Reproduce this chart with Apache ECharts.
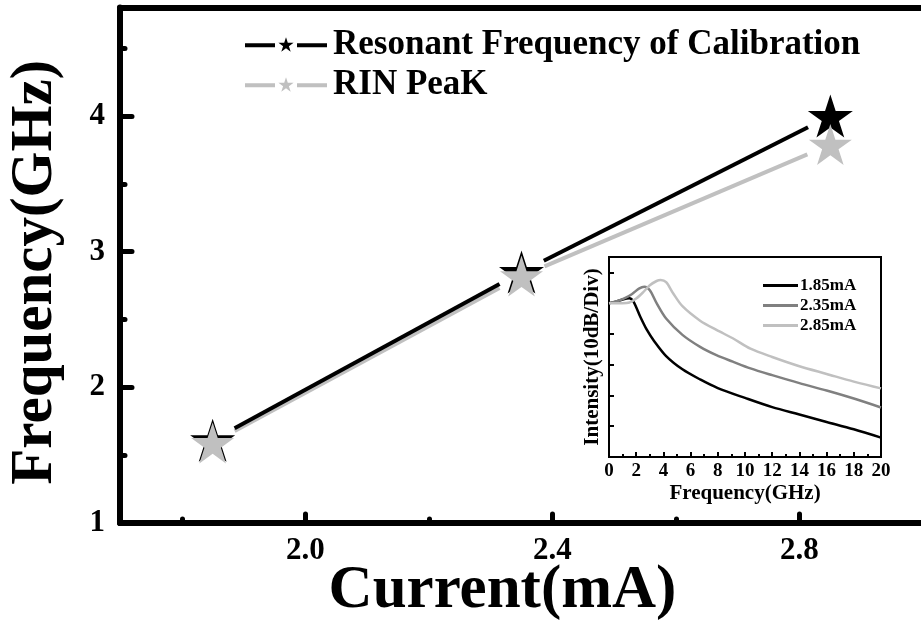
<!DOCTYPE html>
<html>
<head>
<meta charset="utf-8">
<script src="https://cdn.jsdelivr.net/npm/echarts@6/dist/echarts.min.js"></script>
<style>
  html, body { margin: 0; padding: 0; background: #fff; }
  #chart { width: 921px; height: 620px; }
</style>
</head>
<body>
<div id="chart"></div>
<script>
// Bias currents of the three measurements (mA)
const currents = [1.85, 2.35, 2.85];
// Resonant frequency obtained from the calibration fit (GHz)
const resonantFreq = [1.61, 2.85, 4.00];
// Frequency of the RIN peak (GHz)
const rinPeak = [1.59, 2.82, 3.79];

// Main axes ticks
const mainXTicks = [2.0, 2.4, 2.8];
const mainXMinorTicks = [1.8, 2.2, 2.6];
const mainYTicks = [1, 2, 3, 4];
const mainYMinorTicks = [1.5, 2.5, 3.5, 4.5];

// Inset: RIN spectra, frequency (GHz) vs intensity in 10 dB divisions
const spec185Freq = [0, 0.5, 1.0, 1.5, 1.8, 2.3, 2.8, 3.3, 4.2, 5.4, 6.7, 8.0, 10, 12, 14, 16, 18, 20];
const spec185Int  = [5.0, 5.05, 5.12, 5.16, 5.05, 4.56, 4.12, 3.78, 3.28, 2.85, 2.52, 2.24, 1.92, 1.62, 1.38, 1.14, 0.90, 0.63];
const spec235Freq = [0, 0.7, 1.2, 1.7, 2.2, 2.6, 3.0, 3.5, 4.2, 5.4, 6.7, 7.9, 9.1, 10.4, 12, 14, 16, 18, 20];
const spec235Int  = [5.0, 5.08, 5.17, 5.3, 5.47, 5.53, 5.42, 5.0, 4.5, 3.97, 3.58, 3.31, 3.1, 2.88, 2.66, 2.4, 2.16, 1.9, 1.61];
const spec285Freq = [0, 1.0, 1.5, 2.0, 2.5, 3.0, 3.5, 3.8, 4.2, 4.7, 5.4, 6.7, 7.9, 9.1, 10.4, 12, 14, 16, 18, 20];
const spec285Int  = [5.0, 5.0, 5.02, 5.15, 5.35, 5.58, 5.72, 5.75, 5.68, 5.33, 4.9, 4.43, 4.13, 3.86, 3.52, 3.25, 2.95, 2.7, 2.45, 2.23];
const insetXTicks = 2;

const FONT = "'Liberation Serif', 'Times New Roman', serif";
const STAR_GAP = 25; // blank space left between a connecting line and its star

// Five-pointed star outline
const STAR = 'path://M100,0L122.45,69.1L195.11,69.1L136.33,111.8L158.78,180.9L100,138.2L41.22,180.9L63.67,111.8L4.89,69.1L77.55,69.1Z';
// Legend icon: line - star - line
const STAR_LINE = 'path://M0,6L30,6L30,10L0,10Z M52,6L82,6L82,10L52,10Z ' +
  'M41,0L42.8,5.53L48.61,5.53L43.91,8.94L45.7,14.47L41,11.06L36.3,14.47L38.09,8.94L33.39,5.53L39.2,5.53Z';

function segments(xs, ys) {
  const out = [];
  for (let i = 0; i < xs.length - 1; i++) out.push([xs[i], ys[i], xs[i + 1], ys[i + 1]]);
  return out;
}
function pairs(xs, ys) { return xs.map((x, i) => [x, ys[i]]); }

function gappedLine(color) {
  return function (params, api) {
    const a = api.coord([api.value(0), api.value(1)]);
    const b = api.coord([api.value(2), api.value(3)]);
    const dx = b[0] - a[0], dy = b[1] - a[1];
    const len = Math.hypot(dx, dy);
    const ux = dx / len, uy = dy / len;
    return {
      type: 'line',
      shape: {
        x1: a[0] + ux * STAR_GAP, y1: a[1] + uy * STAR_GAP,
        x2: b[0] - ux * STAR_GAP, y2: b[1] - uy * STAR_GAP
      },
      style: { stroke: color, lineWidth: 4 }
    };
  };
}

const bold = { fontFamily: FONT, fontWeight: 'bold', color: '#000' };
const blackLine = (w) => ({ color: '#000', width: w });

const chart = echarts.init(document.getElementById('chart'));
chart.setOption({
  animation: false,
  backgroundColor: '#fff',
  grid: [
    { left: 120, right: -2, top: 7.5, bottom: 97, containLabel: false, outerBoundsMode: 'none' },
    { left: 609, right: 40, top: 257, bottom: 163, containLabel: false, outerBoundsMode: 'none',
      show: true, borderColor: '#000', borderWidth: 2 }
  ],
  legend: [
    {
      orient: 'vertical', left: 240, top: 22,
      itemWidth: 82, itemHeight: 14.47, itemGap: 5,
      textStyle: Object.assign({ fontSize: 35, lineHeight: 35, padding: [0, 0, 0, 1] }, bold),
      data: [
        { name: 'Resonant Frequency of Calibration', icon: STAR_LINE },
        { name: 'RIN PeaK', icon: STAR_LINE }
      ]
    },
    {
      orient: 'vertical', left: 758, top: 272,
      itemWidth: 35, itemHeight: 3, itemGap: 3,
      icon: 'rect',
      textStyle: Object.assign({ fontSize: 17, lineHeight: 17, padding: [0, 0, 0, -3] }, bold),
      data: ['1.85mA', '2.35mA', '2.85mA']
    }
  ],
  xAxis: [
    {
      gridIndex: 0, type: 'value', min: 1.7, max: 3.0, position: 'bottom',
      axisLine: { onZero: false, lineStyle: blackLine(6) },
      axisTick: { inside: true, length: 9, customValues: mainXTicks, lineStyle: { color: '#000', width: 5, cap: 'round' } },
      axisLabel: Object.assign({ customValues: mainXTicks, formatter: v => v.toFixed(1), fontSize: 31, margin: 12 }, bold),
      splitLine: { show: false },
      name: 'Current(mA)', nameLocation: 'middle', nameGap: 38, nameMoveOverlap: false,
      nameTextStyle: Object.assign({ fontSize: 61, padding: [0, 38, 0, 0] }, bold)
    },
    {
      gridIndex: 0, type: 'value', min: 1.7, max: 3.0, position: 'bottom',
      axisLine: { show: false },
      axisTick: { inside: true, length: 4, customValues: mainXMinorTicks, lineStyle: { color: '#000', width: 5, cap: 'round' } },
      axisLabel: { show: false }, splitLine: { show: false }
    },
    {
      gridIndex: 0, type: 'value', min: 1.7, max: 3.0, position: 'top',
      axisLine: { onZero: false, lineStyle: blackLine(6) },
      axisTick: { show: false }, axisLabel: { show: false }, splitLine: { show: false }
    },
    {
      gridIndex: 1, type: 'value', min: 0, max: 20, interval: insetXTicks,
      axisLine: { onZero: false, lineStyle: blackLine(2) },
      axisTick: { inside: true, length: 5, lineStyle: { color: '#000', width: 2 } },
      minorTick: { show: true, splitNumber: 2, length: 3, lineStyle: { color: '#000', width: 2 } },
      axisLabel: Object.assign({ fontSize: 19, margin: 5 }, bold),
      splitLine: { show: false },
      name: 'Frequency(GHz)', nameLocation: 'middle', nameGap: 26,
      nameTextStyle: Object.assign({ fontSize: 21 }, bold)
    }
  ],
  yAxis: [
    {
      gridIndex: 0, type: 'value', min: 1, max: 4.8, position: 'left',
      axisLine: { show: true, onZero: false, lineStyle: blackLine(6) },
      axisTick: { inside: true, length: 12, customValues: mainYTicks, lineStyle: { color: '#000', width: 5, cap: 'round' } },
      axisLabel: Object.assign({ customValues: mainYTicks, fontSize: 31, margin: 15 }, bold),
      splitLine: { show: false },
      name: 'Frequency(GHz)', nameLocation: 'middle', nameGap: 55, nameRotate: 90,
      nameTextStyle: Object.assign({ fontSize: 59, padding: [0, 14, 0, 0] }, bold)
    },
    {
      gridIndex: 0, type: 'value', min: 1, max: 4.8, position: 'left',
      axisLine: { show: false },
      axisTick: { inside: true, length: 5, customValues: mainYMinorTicks, lineStyle: { color: '#000', width: 5, cap: 'round' } },
      axisLabel: { show: false }, splitLine: { show: false }
    },
    {
      gridIndex: 1, type: 'value', min: 0, max: 6.5, interval: 1, position: 'left',
      axisLine: { show: true, onZero: false, lineStyle: blackLine(2) },
      axisTick: { inside: true, length: 5, lineStyle: { color: '#000', width: 2 } },
      axisLabel: { show: false }, splitLine: { show: false },
      name: 'Intensity(10dB/Div)', nameLocation: 'middle', nameGap: 6,
      nameTextStyle: Object.assign({ fontSize: 21 }, bold)
    }
  ],
  series: [
    {
      type: 'custom', name: 'rin-line', xAxisIndex: 0, yAxisIndex: 0, z: 2,
      encode: { x: [0, 2], y: [1, 3] },
      renderItem: gappedLine('#c0c0c0'),
      data: segments(currents, rinPeak)
    },
    {
      type: 'custom', name: 'res-line', xAxisIndex: 0, yAxisIndex: 0, z: 2,
      encode: { x: [0, 2], y: [1, 3] },
      renderItem: gappedLine('#000'),
      data: segments(currents, resonantFreq)
    },
    {
      type: 'scatter', name: 'Resonant Frequency of Calibration', xAxisIndex: 0, yAxisIndex: 0, z: 3,
      symbol: STAR, symbolSize: [45, 43],
      itemStyle: { color: '#000', opacity: 1 },
      data: pairs(currents, resonantFreq)
    },
    {
      type: 'scatter', name: 'RIN PeaK', xAxisIndex: 0, yAxisIndex: 0, z: 4,
      symbol: STAR, symbolSize: [43, 41],
      itemStyle: { color: '#c0c0c0', opacity: 1 },
      data: pairs(currents, rinPeak)
    },
    {
      type: 'line', name: '1.85mA', xAxisIndex: 3, yAxisIndex: 2,
      showSymbol: false, smooth: 0.3, color: '#000',
      lineStyle: { width: 2.5, color: '#000' },
      data: pairs(spec185Freq, spec185Int)
    },
    {
      type: 'line', name: '2.35mA', xAxisIndex: 3, yAxisIndex: 2,
      showSymbol: false, smooth: 0.3, color: '#808080',
      lineStyle: { width: 2.5, color: '#808080' },
      data: pairs(spec235Freq, spec235Int)
    },
    {
      type: 'line', name: '2.85mA', xAxisIndex: 3, yAxisIndex: 2,
      showSymbol: false, smooth: 0.3, color: '#c0c0c0',
      lineStyle: { width: 2.5, color: '#c0c0c0' },
      data: pairs(spec285Freq, spec285Int)
    }
  ]
});
</script>
</body>
</html>
